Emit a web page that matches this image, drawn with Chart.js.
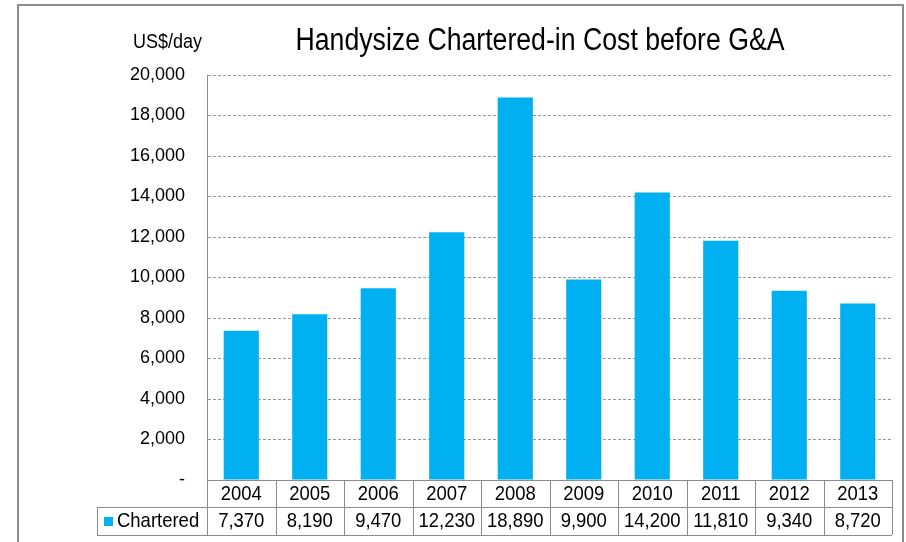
<!DOCTYPE html>
<html>
<head>
<meta charset="utf-8">
<script src="https://cdn.jsdelivr.net/npm/chart.js@4.4.1/dist/chart.umd.min.js"></script>
<style>
    body { margin: 0; background: #fff; }
    canvas { display: block; }
</style>
</head>
<body>
<canvas id="costChart" width="906" height="542"></canvas>
<script>
const years = ["2004", "2005", "2006", "2007", "2008", "2009", "2010", "2011", "2012", "2013"];
const chartered = [7370, 8190, 9470, 12230, 18890, 9900, 14200, 11810, 9340, 8720];
const seriesLabel = "Chartered";
const chartTitle = "Handysize Chartered-in Cost before G&A";
const unitLabel = "US$/day";

const barColor = "#00B0F0";
const lineColor = "#8c8c8c";
const font = "'Liberation Sans', Arial, sans-serif";

function fmt(v) {
    return v === 0 ? "-" : v.toLocaleString("en-US");
}

// text a little narrower than normal, like the source picture
function drawText(ctx, text, x, y, size, align, sx) {
    ctx.save();
    ctx.translate(x, y);
    ctx.scale(sx, 1);
    ctx.font = size + "px " + font;
    ctx.textAlign = align;
    ctx.textBaseline = "middle";
    ctx.fillStyle = "#000";
    ctx.fillText(text, 0, 0);
    ctx.restore();
}

// Frame, title and data table drawn around the chart area
const decorPlugin = {
    id: "decor",
    beforeDraw(chart) {
        const ctx = chart.ctx;
        ctx.save();
        ctx.fillStyle = "#fff";
        ctx.fillRect(0, 0, chart.width, chart.height);
        ctx.strokeStyle = lineColor;
        ctx.lineWidth = 2;
        ctx.beginPath();
        ctx.moveTo(18, chart.height + 5);
        ctx.lineTo(18, 5);
        ctx.lineTo(903, 5);
        ctx.lineTo(903, chart.height + 5);
        ctx.stroke();
        ctx.restore();
    },
    afterDraw(chart) {
        const ctx = chart.ctx;
        const area = chart.chartArea;
        const x = chart.scales.x;
        const w = area.width / years.length;
        const top = area.bottom;
        const mid = top + 27;
        const bottom = top + 55;
        const labelLeft = 97;

        // title + unit
        drawText(ctx, chartTitle, 540, 41, 31, "center", 0.86);
        drawText(ctx, unitLabel, 133, 42, 20, "left", 0.9);

        // table grid
        ctx.save();
        ctx.strokeStyle = lineColor;
        ctx.lineWidth = 1;
        ctx.beginPath();
        ctx.moveTo(area.left, top + 0.5);
        ctx.lineTo(area.right, top + 0.5);
        ctx.moveTo(labelLeft, mid + 0.5);
        ctx.lineTo(area.right, mid + 0.5);
        ctx.moveTo(labelLeft, bottom + 0.5);
        ctx.lineTo(area.right, bottom + 0.5);
        ctx.moveTo(labelLeft + 0.5, mid);
        ctx.lineTo(labelLeft + 0.5, bottom);
        for (let i = 0; i <= years.length; i++) {
            const px = Math.round(x.getPixelForValue(i) - w / 2) + 0.5;
            ctx.moveTo(px, top);
            ctx.lineTo(px, bottom);
        }
        ctx.stroke();

        // legend key
        ctx.fillStyle = barColor;
        ctx.fillRect(104, mid + 10, 9, 9);
        ctx.restore();

        // table text
        years.forEach((yr, i) => {
            const cx = x.getPixelForValue(i);
            drawText(ctx, yr, cx, top + 14, 21, "center", 0.88);
            drawText(ctx, fmt(chartered[i]), cx, mid + 14, 21, "center", 0.88);
        });
        drawText(ctx, seriesLabel, 117, mid + 14, 21, "left", 0.88);
    }
};

new Chart(document.getElementById("costChart").getContext("2d"), {
    type: "bar",
    data: {
        labels: years,
        datasets: [{
            label: seriesLabel,
            data: chartered,
            backgroundColor: barColor,
            borderWidth: 0,
            barPercentage: 0.513,
            categoryPercentage: 1
        }]
    },
    options: {
        responsive: false,
        animation: false,
        devicePixelRatio: 1,
        layout: {
            padding: { top: 75, right: 14, bottom: 0, left: 0 }
        },
        plugins: {
            legend: { display: false },
            title: { display: false },
            tooltip: { enabled: false }
        },
        scales: {
            x: {
                ticks: { display: false },
                grid: { display: false },
                border: { display: false },
                afterFit(scale) { scale.height = 62; }
            },
            y: {
                min: 0,
                max: 20000,
                ticks: {
                    stepSize: 2000,
                    padding: 22,
                    color: "#000",
                    font: { family: font, size: 18 },
                    callback: v => fmt(v)
                },
                grid: {
                    color: "#999999",
                    lineWidth: 1,
                    drawTicks: false
                },
                border: {
                    display: true,
                    color: lineColor,
                    width: 1,
                    dash: [3, 2]
                },
                afterFit(scale) { scale.width = 207; }
            }
        }
    },
    plugins: [decorPlugin]
});
</script>
</body>
</html>
